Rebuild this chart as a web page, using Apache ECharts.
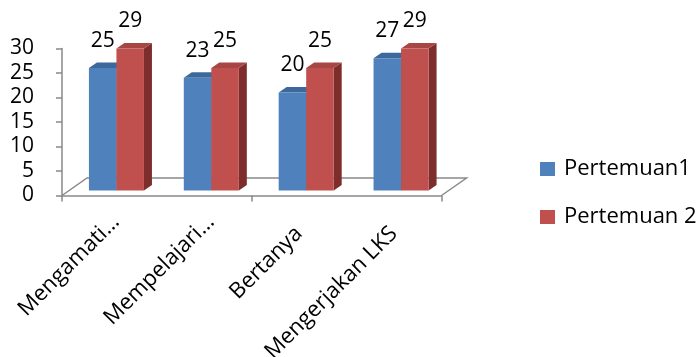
<!DOCTYPE html>
<html>
<head>
<meta charset="utf-8">
<script src="https://cdn.jsdelivr.net/npm/echarts@6/dist/echarts.min.js"></script>
<style>
  html, body { margin: 0; padding: 0; background: #fff; }
  #chart { width: 698px; height: 357px; }
</style>
</head>
<body>
<div id="chart"></div>
<script>
// Activity categories and scores for the two meetings
const categories = ['Mengamati…', 'Mempelajari…', 'Bertanya', 'Mengerjakan LKS'];
const pertemuan1 = [25, 23, 20, 27];
const pertemuan2 = [29, 25, 25, 29];
const seriesNames = ['Pertemuan1', 'Pertemuan 2'];
const yTicks = [0, 5, 10, 15, 20, 25, 30];

const FONT = '"Open Sans", "Noto Sans", sans-serif';
const AXIS_GRAY = '#898989';
// bars stand a little behind the front edge of the floor
const PLANE = [7, -5];
// extrusion of each bar (side and top faces)
const DEPTH = [8, -5.5];
// depth of the floor plate
const FLOOR_DEPTH = [25, -17.5];
// slanted category names: where the end of the text sits, from the category centre on the axis
const LABEL_END_CUT = [6.5, 23];
const LABEL_END_FULL = [-0.2, 34.8];

const palettes = [
  { front: '#4F81BD', top: '#3D689C', side: '#2F5180' },
  { front: '#C0504D', top: '#A84643', side: '#7D2E2C' }
];

function barRenderer(seriesIdx) {
  return function (params, api) {
    const i = api.value(0);
    const v = api.value(1);
    const bw = api.size([1, 0])[0];
    const top = api.coord([i, v]);
    const base = api.coord([i, 0]);
    const w = bw * 0.29;
    const pairLeft = base[0] + PLANE[0] - w;
    const x0 = pairLeft + seriesIdx * w;
    const x1 = x0 + w;
    const yb = base[1] + PLANE[1];
    const yt = top[1] + PLANE[1];
    const dx = DEPTH[0], dy = DEPTH[1];
    const pal = palettes[seriesIdx];
    return {
      type: 'group',
      children: [
        { type: 'polygon', shape: { points: [[x1, yb], [x1 + dx, yb + dy], [x1 + dx, yt + dy], [x1, yt]] },
          style: { fill: pal.side } },
        { type: 'polygon', shape: { points: [[x0, yt], [x0 + dx, yt + dy], [x1 + dx, yt + dy], [x1, yt]] },
          style: { fill: pal.top } },
        { type: 'rect', shape: { x: x0, y: yt, width: w, height: yb - yt },
          style: { fill: pal.front } },
        { type: 'text', x: (x0 + x1) / 2, y: yt + dy - 21.5,
          style: { text: String(v), fill: '#000', font: '21px ' + FONT, align: 'center', verticalAlign: 'middle' } }
      ]
    };
  };
}

function floorRenderer(params, api) {
  const bw = api.size([1, 0])[0];
  const l = api.coord([0, 0]);
  const r = api.coord([categories.length - 1, 0]);
  const x0 = l[0] - bw / 2, x1 = r[0] + bw / 2, y = l[1];
  const dx = FLOOR_DEPTH[0], dy = FLOOR_DEPTH[1];
  return {
    type: 'polyline',
    shape: { points: [[x0, y], [x0 + dx, y + dy], [x1 + dx, y + dy], [x1, y]] },
    style: { stroke: AXIS_GRAY, lineWidth: 1.5, fill: null }
  };
}

// category names, slanted 45° under the axis
function categoryLabelRenderer(params, api) {
  const name = categories[params.dataIndex];
  const p = api.coord([api.value(0), 0]);
  const off = name.endsWith('…') ? LABEL_END_CUT : LABEL_END_FULL;
  return {
    type: 'text',
    x: p[0] + off[0],
    y: p[1] + off[1],
    rotation: Math.PI / 4,
    style: { text: name, fill: '#000', font: '22px ' + FONT, align: 'right', verticalAlign: 'middle' }
  };
}

const chart = echarts.init(document.getElementById('chart'), null, { renderer: 'canvas' });
chart.setOption({
  animation: false,
  backgroundColor: '#fff',
  textStyle: { fontFamily: FONT },
  grid: { left: 62, right: 256.5, top: 48.5, bottom: 161.5, containLabel: false, outerBoundsMode: 'none' },
  legend: {
    orient: 'vertical',
    left: 535,
    top: 153,
    icon: 'rect',
    itemWidth: 15,
    itemHeight: 14,
    itemGap: 26,
    data: seriesNames,
    textStyle: { fontSize: 22, lineHeight: 22, fontFamily: FONT, color: '#000', padding: [0, 0, 0, 4] }
  },
  xAxis: {
    type: 'category',
    data: categories,
    axisLine: { lineStyle: { color: AXIS_GRAY, width: 1.5 } },
    axisTick: { show: true, length: 6, lineStyle: { color: AXIS_GRAY, width: 1.5 } },
    axisLabel: { show: false }
  },
  yAxis: {
    type: 'value',
    min: yTicks[0],
    max: yTicks[yTicks.length - 1],
    interval: yTicks[1] - yTicks[0],
    splitLine: { show: false },
    axisLine: { show: true, lineStyle: { color: AXIS_GRAY, width: 1.5 } },
    axisTick: { show: true, length: 6, lineStyle: { color: AXIS_GRAY, width: 1.5 } },
    axisLabel: { fontSize: 21, color: '#000', fontFamily: FONT, margin: 28 }
  },
  series: [
    { type: 'custom', name: 'floor', renderItem: floorRenderer, data: [[0, 0]], silent: true, z: 1 },
    { type: 'custom', name: 'categoryLabels', renderItem: categoryLabelRenderer,
      data: categories.map((c, i) => [i, 0]), silent: true, z: 1 },
    { type: 'custom', name: seriesNames[0], renderItem: barRenderer(0),
      data: pertemuan1.map((v, i) => [i, v]), itemStyle: { color: palettes[0].front }, z: 2 },
    { type: 'custom', name: seriesNames[1], renderItem: barRenderer(1),
      data: pertemuan2.map((v, i) => [i, v]), itemStyle: { color: palettes[1].front }, z: 3 }
  ]
});
</script>
</body>
</html>
